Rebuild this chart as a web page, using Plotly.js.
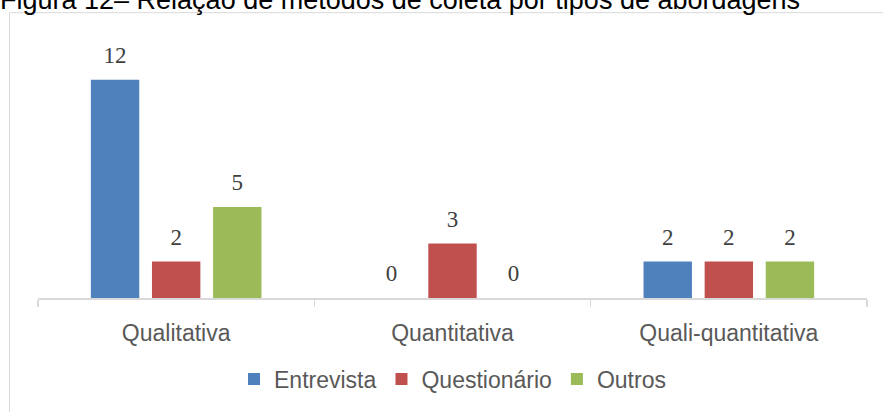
<!DOCTYPE html>
<html>
<head>
<meta charset="utf-8">
<script src="https://cdn.plot.ly/plotly-3.0.1.min.js"></script>
<style>html,body{margin:0;padding:0;background:#fff;}#chart{width:883px;height:412px;}</style>
</head>
<body>
<div id="chart"></div>
<script>
const categories = ["Qualitativa", "Quantitativa", "Quali-quantitativa"];
const seriesNames = ["Entrevista", "Questionário", "Outros"];
const entrevista = [12, 0, 2];
const questionario = [2, 3, 2];
const outros = [5, 0, 2];
const seriesColors = ["#4F81BD", "#C0504D", "#9BBB59"];
const titleText = "Figura 12– Relação de métodos de coleta por tipos de abordagens";

const W = 883, H = 412;
const mL = 38, mR = 16, mT = 30, mB = 111;
const plotH = H - mT - mB;
const pxPerUnit = 18.4;
const GAP = 0.3366;

const values = [entrevista, questionario, outros];
const bars = values.map((v, i) => ({
  type: "bar",
  name: seriesNames[i],
  x: categories,
  y: v,
  offsetgroup: "g" + i,
  marker: {color: seriesColors[i], line: {width: 0}},
  hoverinfo: "skip"
}));
const labels = values.map((v, i) => ({
  type: "scatter",
  mode: "markers+text",
  showlegend: false,
  x: categories,
  y: v,
  offsetgroup: "g" + i,
  marker: {size: 16, opacity: 0, color: "#fff"},
  text: v.map(String),
  textposition: "top center",
  cliponaxis: false,
  textfont: {family: "Liberation Serif, serif", size: 23, color: "#404040"},
  hoverinfo: "skip"
}));

const px2paperY = (py) => (H - mB - py) / plotH;
const px2paperX = (px) => (px - mL) / (W - mL - mR);

const layout = {
  width: W, height: H,
  margin: {l: mL, r: mR, t: mT, b: mB, pad: 0},
  paper_bgcolor: "#fff", plot_bgcolor: "#fff",
  barmode: "group",
  bargap: GAP,
  bargroupgap: 0.208,
  scattermode: "group",
  scattergap: GAP,
  showlegend: true,
  title: {
    text: titleText,
    x: 0, xref: "container", xanchor: "left",
    y: 1, yref: "container", yanchor: "middle",
    font: {family: "Liberation Sans, Arial, sans-serif", size: 27, color: "#000"}
  },
  font: {family: "Liberation Sans, Arial, sans-serif", color: "#595959"},
  xaxis: {
    type: "category",
    showline: true, linecolor: "#d9d9d9", linewidth: 1.5,
    ticks: "outside", tickson: "boundaries", ticklen: 7, tickcolor: "#d9d9d9", tickwidth: 1.5,
    ticklabelstandoff: 14,
    tickfont: {family: "Liberation Sans, Arial, sans-serif", size: 23, color: "#595959"},
    showgrid: false, zeroline: false, fixedrange: true
  },
  yaxis: {
    range: [0, plotH / pxPerUnit],
    visible: false, showgrid: false, zeroline: false, fixedrange: true
  },
  legend: {
    orientation: "h",
    x: 0.5, xanchor: "center", xref: "paper",
    y: px2paperY(383), yanchor: "middle", yref: "paper",
    font: {family: "Liberation Sans, Arial, sans-serif", size: 23, color: "#595959"},
    bgcolor: "rgba(0,0,0,0)"
  },
  shapes: [{
    type: "rect", xref: "paper", yref: "paper", layer: "below",
    x0: px2paperX(9.5), x1: px2paperX(W + 20),
    y0: px2paperY(H + 20), y1: px2paperY(12.5),
    line: {color: "#d9d9d9", width: 1}, fillcolor: "rgba(0,0,0,0)"
  }]
};

Plotly.newPlot("chart", bars.concat(labels), layout, {displayModeBar: false, staticPlot: true});
</script>
</body>
</html>
